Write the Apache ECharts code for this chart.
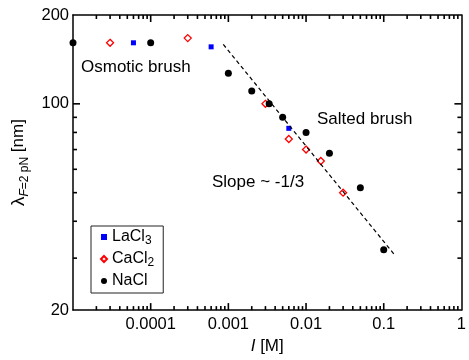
<!DOCTYPE html>
<html>
<head>
<meta charset="utf-8">
<script src="https://cdn.jsdelivr.net/npm/echarts@6/dist/echarts.min.js"></script>
<style>
html, body { margin: 0; padding: 0; background: #fff; }
#main { width: 469px; height: 360px; }
</style>
</head>
<body>
<div id="main"></div>
<script>
// 离子强度 I [M] 对 lambda [nm]
let naclData = [[1e-5, 161], [1e-4, 161], [1e-3, 127], [2e-3, 110.5], [3.35e-3, 100], [5e-3, 90], [0.01, 80], [0.02, 68], [0.05, 52], [0.1, 32]];
let cacl2Data = [[3e-5, 161], [3e-4, 167], [3e-3, 100], [6e-3, 76], [0.01, 70], [0.0155, 64], [0.03, 50]];
let lacl3Data = [[6e-5, 161], [6e-4, 156], [6e-3, 82.6]];
//斜率 -1/3 参考线的两个端点
let slopeLine = [[8.6e-4, 159], [0.135, 31]];
let xRange = [1e-5, 1];
let yRange = [20, 200];
let xMajorTicks = [1e-4, 1e-3, 1e-2, 1e-1];
let yMajorTicks = [100];
let yMinorTicks = [30, 40, 50, 60, 70, 80, 90];
let xDecades = [1e-5, 1e-4, 1e-3, 1e-2, 1e-1];
let xMinorMult = [2, 3, 4, 5, 6, 7, 8, 9];

let xMinorTicks = [];
xDecades.forEach(function (d) {
    xMinorMult.forEach(function (m) {
        xMinorTicks.push(+(m * d).toPrecision(2));
    });
});

let chart = echarts.init(document.getElementById('main'));
let font = 'Liberation Sans';

function axisBase(pos, showLabel, fmt) {
    return {
        type: 'log',
        logBase: 10,
        position: pos,
        axisLine: {show: true, lineStyle: {color: '#000', width: 1.5}},
        axisTick: {show: false},
        minorTick: {show: false},
        axisLabel: {show: showLabel, color: '#000', fontSize: 16.5, fontFamily: font, margin: 6, formatter: fmt},
        splitLine: {show: false}
    };
}

let xFmt = function (v) {
    return v < 5e-5 ? '' : String(+(+v).toPrecision(3));
};
let yFmt = function (v) {
    return String(Math.round(v));
};

let xBottom = axisBase('bottom', true, xFmt);
xBottom.min = xRange[0];
xBottom.max = xRange[1];
xBottom.name = '{i|I}{t| [M]}';
xBottom.nameLocation = 'middle';
xBottom.nameGap = 19;
xBottom.nameTextStyle = {
    color: '#000', fontSize: 17, fontFamily: font,
    rich: {
        i: {fontSize: 17, fontStyle: 'italic', fontFamily: font},
        t: {fontSize: 17, fontFamily: font}
    }
};
let xTop = axisBase('top', false);
xTop.min = xRange[0];
xTop.max = xRange[1];

let yLeft = axisBase('left', true, yFmt);
yLeft.min = yRange[0];
yLeft.max = yRange[1];
yLeft.axisLabel.margin = 4;
yLeft.name = '{l|λ}{f|F}{s|=2 pN}{n| [nm]}';
yLeft.nameLocation = 'middle';
yLeft.nameRotate = 90;
yLeft.nameGap = 32;
yLeft.nameTextStyle = {
    color: '#000', fontFamily: font,
    rich: {
        l: {fontSize: 19, lineHeight: 24, verticalAlign: 'middle', fontFamily: font},
        f: {fontSize: 12, lineHeight: 12, verticalAlign: 'bottom', fontStyle: 'italic', fontFamily: font},
        s: {fontSize: 12, lineHeight: 12, verticalAlign: 'bottom', fontFamily: font},
        n: {fontSize: 17, lineHeight: 24, verticalAlign: 'middle', fontFamily: font}
    }
};
let yRight = axisBase('right', false);
yRight.min = yRange[0];
yRight.max = yRange[1];

//刻度用细小矩形标记画在坐标轴内侧
function tickSeries(data, size, offset) {
    return {
        type: 'scatter',
        silent: true,
        clip: false,
        symbol: 'rect',
        symbolSize: size,
        symbolOffset: offset,
        itemStyle: {color: '#000', opacity: 1},
        z: 3,
        data: data
    };
}

function xTicks(vals, len) {
    return [
        tickSeries(vals.map(function (v) { return [v, yRange[0]]; }), [1.6, len], [0, -len / 2]),
        tickSeries(vals.map(function (v) { return [v, yRange[1]]; }), [1.6, len], [0, len / 2])
    ];
}

function yTicks(vals, len) {
    return [
        tickSeries(vals.map(function (v) { return [xRange[0], v]; }), [len, 1.6], [len / 2, 0]),
        tickSeries(vals.map(function (v) { return [xRange[1], v]; }), [len, 1.6], [-len / 2, 0])
    ];
}

let option = {
    animation: false,
    backgroundColor: '#fff',
    textStyle: {fontFamily: font},
    grid: {left: 73, right: 7, top: 15, bottom: 37},
    xAxis: [xBottom, xTop],
    yAxis: [yLeft, yRight],
    legend: {
        data: ['LaCl3', 'CaCl2', 'NaCl'],
        orient: 'vertical',
        left: 91,
        top: 226,
        padding: [3, 9, 4, 9],
        itemGap: 4,
        itemWidth: 6,
        itemHeight: 6,
        borderColor: '#222',
        borderWidth: 1,
        backgroundColor: '#fff',
        formatter: function (n) {
            let m = n.match(/^(\D+)(\d?)$/);
            return '{b|' + m[1] + '}' + (m[2] ? '{s|' + m[2] + '}' : '');
        },
        textStyle: {
            color: '#000', fontSize: 16, fontFamily: font,
            rich: {
                b: {fontSize: 16, lineHeight: 20, verticalAlign: 'middle', fontFamily: font},
                s: {fontSize: 12, lineHeight: 12, verticalAlign: 'bottom', fontFamily: font}
            }
        }
    },
    graphic: [
        {type: 'text', x: 81, y: 67, style: {text: 'Osmotic brush', fill: '#000', fontSize: 17, fontFamily: font, verticalAlign: 'middle'}},
        {type: 'text', x: 317, y: 119, style: {text: 'Salted brush', fill: '#000', fontSize: 17, fontFamily: font, verticalAlign: 'middle'}},
        {type: 'text', x: 212, y: 182, style: {text: 'Slope ~ -1/3', fill: '#000', fontSize: 17, fontFamily: font, verticalAlign: 'middle'}}
    ],
    series: [].concat(
        xTicks(xMinorTicks, 4),
        xTicks(xMajorTicks, 7),
        yTicks(yMinorTicks, 4),
        yTicks(yMajorTicks, 7),
        [
            {
                type: 'line',
                data: slopeLine,
                symbol: 'none',
                silent: true,
                lineStyle: {color: '#000', width: 1.2, type: [4, 3]}
            },
            {
                name: 'CaCl2',
                type: 'scatter',
                clip: false,
                symbol: 'diamond',
                symbolSize: 7,
                itemStyle: {color: '#fff', borderColor: '#f00', borderWidth: 1.3, opacity: 1},
                data: cacl2Data
            },
            {
                name: 'LaCl3',
                type: 'scatter',
                clip: false,
                symbol: 'rect',
                symbolSize: 5,
                itemStyle: {color: '#00f', opacity: 1},
                data: lacl3Data
            },
            {
                name: 'NaCl',
                type: 'scatter',
                clip: false,
                symbol: 'circle',
                symbolSize: 7,
                itemStyle: {color: '#000', opacity: 1},
                data: naclData
            }
        ]
    )
};
chart.setOption(option);
</script>
</body>
</html>
